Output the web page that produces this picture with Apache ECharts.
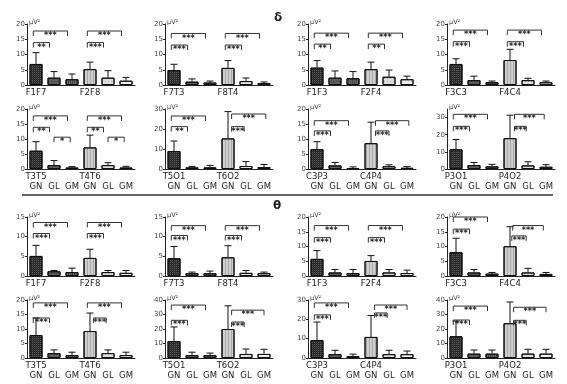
<!DOCTYPE html>
<html><head><meta charset="utf-8">
<script src="https://cdn.jsdelivr.net/npm/echarts@6/dist/echarts.min.js"></script>
<style>html,body{margin:0;padding:0;background:#fff}#c{width:567px;height:384px}</style>
</head><body><div id="c"></div>
<script>
// channel pairs per panel (row-major, 4 columns)
const pairLabels = [
 ['F1F7','F2F8'],['F7T3','F8T4'],['F1F3','F2F4'],['F3C3','F4C4'],
 ['T3T5','T4T6'],['T5O1','T6O2'],['C3P3','C4P4'],['P3O1','P4O2'],
 ['F1F7','F2F8'],['F7T3','F8T4'],['F1F3','F2F4'],['F3C3','F4C4'],
 ['T3T5','T4T6'],['T5O1','T6O2'],['C3P3','C4P4'],['P3O1','P4O2']
];
const groupNames = ['GN','GL','GM'];
// delta power: GN, GL, GM of pair 1 then GN, GL, GM of pair 2
const deltaMeans = [
 [6.9,2.4,1.9,5.2,2.4,1.4],
 [4.9,1.1,0.8,5.6,1.3,0.6],
 [5.7,2.4,2.2,5.2,2.7,1.9],
 [6.9,1.6,0.9,8.2,1.6,0.9],
 [6.1,1.3,0.5,7.2,1.3,0.5],
 [9.0,0.8,0.8,15.3,1.5,1.0],
 [6.6,1.2,0.3,8.6,0.9,0.4],
 [11.5,2.3,1.5,18.0,2.1,1.3]
];
const deltaSD = [
 [3.7,2.0,1.7,2.3,2.3,1.1],
 [1.9,0.9,0.5,2.4,1.0,0.4],
 [2.3,2.2,2.2,2.3,2.2,1.0],
 [1.7,1.3,0.4,3.5,0.6,0.4],
 [3.0,1.5,0.3,4.1,0.8,0.4],
 [5.0,0.5,1.0,13.4,2.2,1.3],
 [2.5,1.0,0.4,7.0,0.5,0.4],
 [5.7,1.5,1.2,13.4,2.1,1.2]
];
// theta power
const thetaMeans = [
 [5.1,1.2,1.0,4.6,1.0,0.8],
 [4.5,0.7,0.7,4.75,0.8,0.7],
 [5.8,1.2,1.0,5.1,1.2,1.0],
 [8.1,1.2,0.8,10.1,1.2,0.7],
 [7.9,1.7,1.0,9.3,1.7,1.0],
 [11.7,2.0,2.0,20.0,2.8,2.8],
 [9.3,2.0,1.0,10.9,2.0,2.0],
 [15.0,3.0,3.0,24.0,3.0,3.0]
];
const thetaSD = [
 [2.7,0.2,1.0,2.2,0.4,0.6],
 [3.0,0.3,0.55,2.95,0.6,0.3],
 [2.8,1.0,1.2,1.8,1.0,1.0],
 [4.7,1.0,0.4,6.6,1.4,0.5],
 [5.9,1.1,1.0,6.2,1.1,1.0],
 [9.7,2.0,1.4,16.0,3.4,3.2],
 [9.3,2.0,1.0,11.1,2.0,1.6],
 [10.5,2.5,2.5,14.6,3.0,3.0]
];
// y-axis maximum and tick step per panel
const axisMax  = [20,20,20,20, 20,30,20,35, 15,15,20,20, 20,40,30,40];
const axisStep = [5,5,5,5, 5,10,5,10, 5,5,5,5, 5,10,10,10];
// significance brackets: [from bar, to bar, level, stars]
const brackets = [
 [[-0.15,0.75,13.9,'**'],[-0.15,1.75,17.7,'***'],[2.85,3.75,13.9,'***'],[2.85,4.75,17.7,'***']],
 [[-0.15,0.75,13.1,'***'],[-0.15,1.75,16.9,'***'],[2.85,3.75,13.1,'***'],[2.85,4.75,16.9,'***']],
 [[-0.15,0.75,13.4,'**'],[-0.15,1.75,17.0,'***'],[2.85,3.75,13.4,'**'],[2.85,4.75,17.0,'***']],
 [[-0.15,0.75,14.2,'***'],[-0.15,1.75,18.0,'***'],[2.85,3.75,14.2,'***'],[2.85,4.75,18.0,'***']],
 [[-0.15,0.75,13.9,'**'],[1.0,1.9,10.6,'*'],[-0.15,1.75,17.7,'***'],[2.85,3.75,13.9,'**'],[4.0,4.9,10.6,'*'],[2.85,4.75,17.7,'***']],
 [[-0.15,0.75,21.2,'**'],[-0.15,1.75,26.5,'***'],[3.2,3.9,21.2,'***'],[3.2,5.1,27.5,'***']],
 [[-0.15,0.75,12.7,'***'],[-0.15,1.75,16.1,'***'],[3.25,4.0,12.7,'***'],[3.25,5.1,16.1,'***']],
 [[-0.15,0.75,24.9,'***'],[-0.15,1.75,31.9,'***'],[3.25,3.9,24.9,'***'],[3.25,4.9,31.9,'***']],
 [[-0.15,0.75,10.8,'***'],[-0.15,1.75,13.6,'***'],[2.85,3.75,10.8,'***'],[2.85,4.75,13.6,'***']],
 [[-0.15,0.75,10.3,'***'],[-0.15,1.75,12.8,'***'],[2.85,3.75,10.3,'***'],[2.85,4.75,12.8,'***']],
 [[-0.15,0.75,13.0,'***'],[-0.15,1.75,17.1,'***'],[2.85,3.75,13.0,'***'],[2.85,4.75,17.1,'***']],
 [[-0.15,0.75,15.9,'***'],[-0.15,1.75,20.0,'***'],[3.1,3.9,13.6,'***'],[3.15,4.85,17.1,'***']],
 [[-0.15,0.75,13.8,'***'],[-0.15,1.75,19.0,'***'],[3.2,3.9,13.8,'***'],[2.85,4.75,19.0,'***']],
 [[-0.15,0.75,26.0,'***'],[-0.15,1.75,36.5,'***'],[3.2,3.9,24.8,'***'],[3.2,5.0,33.0,'***']],
 [[-0.15,0.75,22.3,'***'],[-0.15,1.75,28.5,'***'],[3.2,3.9,23.3,'***'],[3.2,5.0,27.4,'***']],
 [[-0.15,0.75,26.2,'***'],[-0.15,1.75,35.8,'***'],[3.2,3.9,26.0,'***'],[3.2,5.0,35.0,'***']]
];

const allMeans = deltaMeans.concat(thetaMeans);
const allSD = deltaSD.concat(thetaSD);

const barStyles = [
 {color:'#2c2c2c', decal:{symbol:'rect', symbolSize:1, dashArrayX:[1,1], dashArrayY:[1,1], color:'rgba(255,255,255,0.22)'}},
 {color:'#5c5c5c', decal:{symbol:'rect', symbolSize:1, dashArrayX:[1,2], dashArrayY:[1,2], color:'rgba(0,0,0,0.35)'}},
 {color:'#6a6a6a', decal:{symbol:'rect', symbolSize:1, dashArrayX:[1,1], dashArrayY:[8,0], color:'rgba(0,0,0,0.35)'}},
 {color:'#cfcfcf', decal:{symbol:'rect', symbolSize:1, dashArrayX:[1,2], dashArrayY:[8,0], color:'rgba(0,0,0,0.18)'}},
 {color:'#dedede', decal:{symbol:'rect', symbolSize:1, dashArrayX:[1,2], dashArrayY:[1,2], color:'rgba(0,0,0,0.2)'}},
 {color:'#efefef', decal:{symbol:'rect', symbolSize:1, dashArrayX:[1,2], dashArrayY:[1,2], color:'rgba(0,0,0,0.15)'}}
];

const colLeft = [27, 165, 308, 447];
const rowTop = [24, 109, 217, 300];
const rowHeight = [61, 60, 59, 58];
const FONT = 'DejaVu Sans';

const grids = [], xAxes = [], yAxes = [], series = [];
for (let p = 0; p < 16; p++) {
  const r = Math.floor(p / 4), c = p % 4;
  grids.push({left: colLeft[c], top: rowTop[r], width: 108, height: rowHeight[r]});
  const pr = pairLabels[p];
  const bottomRow = (r === 1 || r === 3);
  const cats = bottomRow
    ? [pr[0] + '\n' + groupNames[0], '\n' + groupNames[1], '\n' + groupNames[2], pr[1] + '\n' + groupNames[0], '\n' + groupNames[1], '\n' + groupNames[2]]
    : [pr[0], '', '', pr[1], '', ''];
  xAxes.push({
    type: 'category', gridIndex: p, data: cats,
    axisLine: {lineStyle: {color: '#222', width: 1}},
    axisTick: {show: false},
    axisLabel: {interval: 0, fontSize: 8.5, fontFamily: FONT, color: '#222', margin: 3, lineHeight: 10}
  });
  yAxes.push({
    type: 'value', gridIndex: p, min: 0, max: axisMax[p], interval: axisStep[p],
    name: 'μV²', nameLocation: 'end', nameGap: 1,
    nameTextStyle: {fontSize: 6.5, fontFamily: FONT, color: '#333', align: 'left', verticalAlign: 'bottom', padding: [0, 0, -3, 2]},
    axisLine: {show: true, lineStyle: {color: '#222', width: 1}},
    axisTick: {show: true, length: 2, lineStyle: {color: '#222'}},
    axisLabel: {fontSize: 7, fontFamily: FONT, color: '#444', margin: 2, showMaxLabel: axisMax[p] % axisStep[p] === 0},
    splitLine: {show: false}
  });
  const means = allMeans[p], sds = allSD[p];
  series.push({
    type: 'bar', xAxisIndex: p, yAxisIndex: p, barWidth: 13, silent: true,
    data: means.map((v, i) => ({value: v, itemStyle: {color: barStyles[i].color, decal: barStyles[i].decal, borderColor: '#111', borderWidth: 1}}))
  });
  series.push({
    type: 'custom', xAxisIndex: p, yAxisIndex: p, silent: true, z: 5,
    data: means.map((v, i) => [i, v + sds[i], v]),
    renderItem: function (params, api) {
      const i = api.value(0);
      const top = api.coord([i, api.value(1)]);
      const base = api.coord([i, api.value(2)]);
      const hw = 3.5;
      return {type: 'group', children: [
        {type: 'line', shape: {x1: top[0], y1: top[1], x2: base[0], y2: base[1]}, style: {stroke: '#111', lineWidth: 1}},
        {type: 'line', shape: {x1: top[0] - hw, y1: top[1], x2: top[0] + hw, y2: top[1]}, style: {stroke: '#111', lineWidth: 1}}
      ]};
    }
  });
  const br = brackets[p];
  series.push({
    type: 'custom', xAxisIndex: p, yAxisIndex: p, silent: true, z: 6,
    data: br.map((b, k) => [0, b[2], k]),
    renderItem: function (params, api) {
      const b = br[params.dataIndex];
      const band = api.size([1, 0])[0];
      const o = api.coord([0, b[2]]);
      const x0 = o[0] + b[0] * band, x1 = o[0] + b[1] * band, y = o[1];
      return {type: 'group', children: [
        {type: 'polyline', shape: {points: [[x0, y + 5], [x0, y], [x1, y], [x1, y + 5]]}, style: {stroke: '#333', lineWidth: 1, fill: null}},
        {type: 'text', style: {text: b[3], x: (x0 + x1) / 2, y: y + 1, align: 'center', verticalAlign: 'top', fontSize: 8, fontWeight: 'bold', fontFamily: FONT, fill: '#222'}}
      ]};
    }
  });
}

const chart = echarts.init(document.getElementById('c'), null, {renderer: 'canvas'});
chart.setOption({
  animation: false,
  backgroundColor: '#fff',
  grid: grids, xAxis: xAxes, yAxis: yAxes, series: series,
  graphic: [
    {type: 'text', left: 274, top: 12, style: {text: 'δ', fontSize: 12, fontWeight: 'bold', fontFamily: FONT, fill: '#222'}},
    {type: 'text', left: 273, top: 200, style: {text: 'θ', fontSize: 12, fontWeight: 'bold', fontFamily: FONT, fill: '#222'}},
    {type: 'line', shape: {x1: 22, y1: 195, x2: 553, y2: 195}, style: {stroke: '#333', lineWidth: 1.5}}
  ]
});
</script></body></html>
